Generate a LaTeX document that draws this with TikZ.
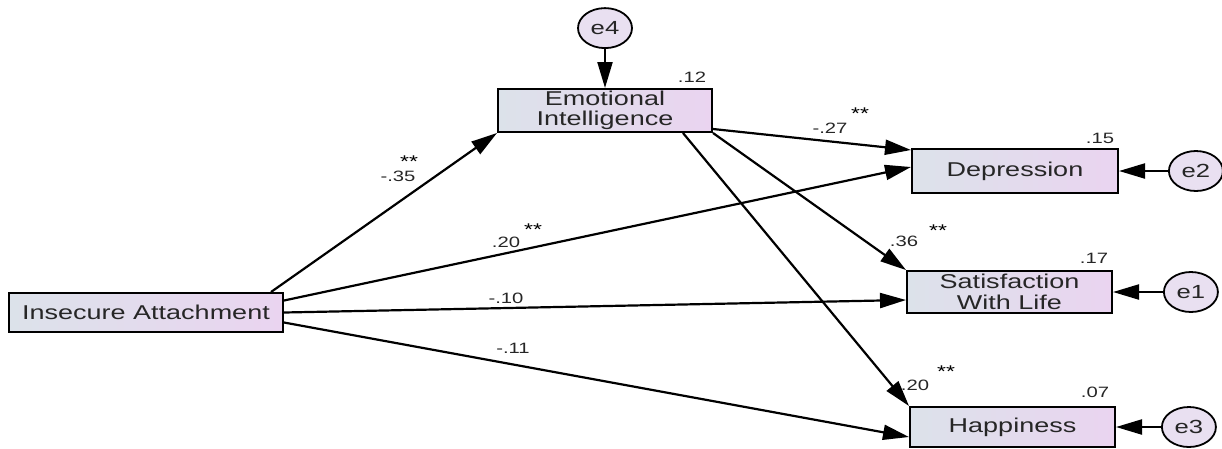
\documentclass[tikz,border=0pt]{standalone}
\usepackage{fontspec}
\setmainfont[FakeStretch=1.35]{Liberation Sans}
\usepackage{xcolor}
\usetikzlibrary{positioning}
\usetikzlibrary{arrows.meta}
\usetikzlibrary{shapes.geometric}

\definecolor{boxleft}{HTML}{DCE2EA}
\definecolor{boxright}{HTML}{EAD4F0}
\definecolor{errfill}{HTML}{E9E0F1}
\definecolor{ink}{HTML}{262626}

\begin{document}
\begin{tikzpicture}[
      x=1pt, y=-1pt,
      >={Triangle[length=26pt,width=15pt]},
      var/.style={draw, rectangle, line width=2pt,
                  left color=boxleft, right color=boxright,
                  inner sep=0pt, align=center, text=ink,
                  font=\fontsize{20}{20.5}\selectfont},
      err/.style={draw, ellipse, line width=1.8pt, fill=errfill,
                  minimum width=54pt, minimum height=40pt,
                  inner sep=0pt, text=ink, font=\fontsize{19}{19}\selectfont},
      reg/.style={->, line width=2.2pt},
      coef/.style={font=\fontsize{15}{15}\selectfont, text=ink, inner sep=0pt},
      sig/.style={font=\fontsize{17}{17}\selectfont, inner sep=0pt}
    ]
    \useasboundingbox (0,0) rectangle (1222,448);

    % Observed variables
    \node[var, minimum width=274pt, minimum height=39pt] (ia) at (146,312.5) {Insecure Attachment};
    \node[var, minimum width=214pt, minimum height=43pt] (ei) at (605,110.5) {Emotional\\Intelligence};
    \node[var, minimum width=206pt, minimum height=44pt] (dep) at (1015,171) {Depression};
    \node[var, minimum width=205pt, minimum height=42pt] (swl) at (1009.5,292) {Satisfaction\\With Life};
    \node[var, minimum width=205pt, minimum height=40pt] (hap) at (1012.5,427) {Happiness};

    % Error terms
    \node[err, above=39pt of ei] (e4) {e4};
    \node[err, right=49pt of dep] (e2) {e2};
    \node[err, right=50pt of swl] (e1) {e1};
    \node[err, right=45pt of hap] (e3) {e3};

    \draw[reg] (e4) -- (ei);
    \draw[reg] (e2) -- (dep);
    \draw[reg] (e1) -- (swl);
    \draw[reg] (e3) -- (hap);

    % Paths from Insecure Attachment
    \draw[reg] ([xshift=-13pt]ia.north east) -- (ei.south west);
    \draw[reg] ([yshift=12pt]ia.east) -- ([yshift=4pt]dep.west);
    \draw[reg] (ia.east) -- ([yshift=-8pt]swl.west);
    \draw[reg] ([yshift=-10pt]ia.east) -- ([yshift=-10pt]hap.west);

    % Paths from Emotional Intelligence
    \draw[reg] ([yshift=4pt]ei.south east) -- ([yshift=-2pt]dep.north west);
    \draw[reg] (ei.south east) -- (swl.north west);
    \draw[reg] ([xshift=-30pt]ei.south east) -- (hap.north west);

    % Squared multiple correlations
    \node[coef] (r-ei) at (692,77) {.12};
    \node[coef] (r-dep) at (1100,138) {.15};
    \node[coef] (r-swl) at (1094,258) {.17};
    \node[coef] (r-hap) at (1095,392) {.07};

    % Path coefficients
    \node[coef] (c-ia-ei) at (398,176) {-.35};
    \node[sig] (s-ia-ei) at (409,162) {**};
    \node[coef] (c-ei-dep) at (830,128) {-.27};
    \node[sig] (s-ei-dep) at (860,114) {**};
    \node[coef] (c-ia-dep) at (506,242) {.20};
    \node[sig] (s-ia-dep) at (533,230) {**};
    \node[coef] (c-ei-swl) at (904,241) {.36};
    \node[sig] (s-ei-swl) at (938,231) {**};
    \node[coef] (c-ia-swl) at (506,298) {-.10};
    \node[coef] (c-ia-hap) at (513,348) {-.11};
    \node[coef] (c-ei-hap) at (915,385) {.20};
    \node[sig] (s-ei-hap) at (946,372) {**};

  \end{tikzpicture}
\end{document}
